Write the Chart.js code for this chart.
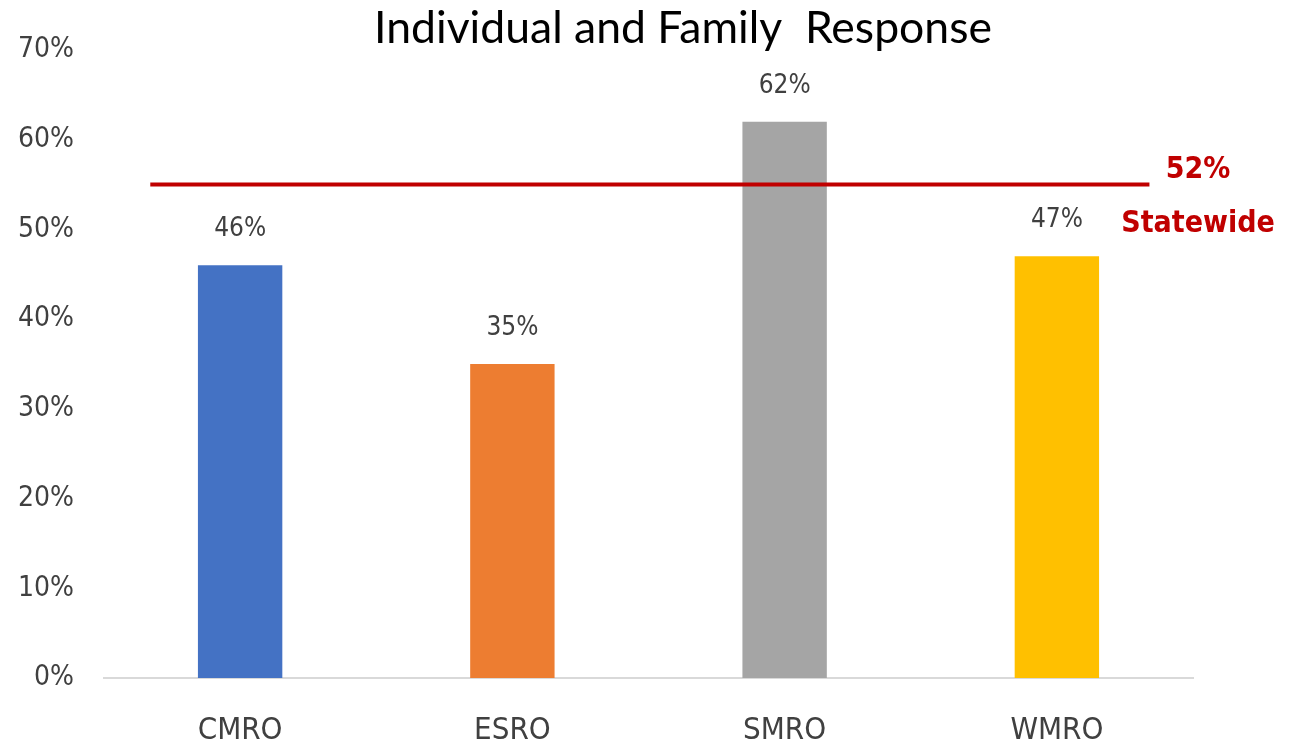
<!DOCTYPE html>
<html>
<head>
<meta charset="utf-8">
<title>Individual and Family Response</title>
<script src="https://cdn.jsdelivr.net/npm/chart.js@4"></script>
<style>
  html, body { margin: 0; padding: 0; background: #fff; }
  #wrap { width: 1296px; height: 747px; position: relative; }
</style>
</head>
<body>
<div id="wrap"><canvas id="chart" width="1296" height="747"></canvas></div>
<script>
// --- data ---
const regions = ['CMRO', 'ESRO', 'SMRO', 'WMRO'];
const responseRates = [46, 35, 62, 47];
const barColors = ['#4472C4', '#ED7D31', '#A5A5A5', '#FFC000'];
const yTicks = [0, 10, 20, 30, 40, 50, 60, 70];
const statewideLabel = '52%';
const statewideLineLevel = 55;      // where the red line sits in the picture
const statewideLineSpan = [-0.33, 3.34]; // in category units

const narrow = "'Liberation Sans Narrow', 'DejaVu Sans Condensed', sans-serif";

// title + value labels, drawn after the chart
const labelsPlugin = {
    id: 'labels',
    afterDraw(chart) {
        const ctx = chart.ctx;
        const x = chart.scales.x;
        const y = chart.scales.y;
        ctx.save();

        // title
        ctx.fillStyle = '#000';
        ctx.font = "44.5px Lato, 'Open Sans', sans-serif";
        ctx.textAlign = 'center';
        ctx.textBaseline = 'alphabetic';
        ctx.fillText('Individual and Family  Response', 683, 43);

        // value on top of each bar
        ctx.fillStyle = '#404040';
        ctx.font = '26px ' + narrow;
        responseRates.forEach((v, i) => {
            ctx.fillText(v + '%', x.getPixelForValue(i), y.getPixelForValue(v) - 29);
        });

        // statewide note
        ctx.fillStyle = '#C00000';
        ctx.font = 'bold 30px ' + narrow;
        ctx.fillText(statewideLabel, 1198, 178);
        ctx.fillText('Statewide', 1198, 232);
        ctx.restore();
    }
};

new Chart(document.getElementById('chart'), {
    type: 'bar',
    data: {
        labels: regions,
        datasets: [
            {
                type: 'line',
                data: statewideLineSpan.map(p => ({ x: p, y: statewideLineLevel })),
                xAxisID: 'xLine',
                borderColor: '#C00000',
                borderWidth: 4,
                pointRadius: 0,
                order: 0
            },
            {
                data: responseRates,
                backgroundColor: barColors,
                barPercentage: 0.31,
                categoryPercentage: 1,
                grouped: false,
                order: 1
            }
        ]
    },
    options: {
        responsive: false,
        animation: false,
        layout: { padding: { top: 50, right: 103, bottom: 0, left: 0 } },
        plugins: { legend: { display: false }, tooltip: { enabled: false }, title: { display: false } },
        scales: {
            x: {
                grid: { display: false, drawTicks: false },
                border: { display: true, color: '#D9D9D9', width: 2 },
                ticks: { color: '#404040', font: { family: narrow, size: 31 }, padding: 34 },
                afterFit(s) { s.height = 69; }
            },
            xLine: {
                type: 'linear',
                display: false,
                offset: false,
                min: -0.5,
                max: 3.5
            },
            y: {
                min: 0,
                max: 70,
                grid: { display: false, drawTicks: false },
                border: { display: false },
                ticks: {
                    stepSize: 10,
                    color: '#404040',
                    font: { family: narrow, size: 28 },
                    padding: 30,
                    callback: v => yTicks.includes(v) ? v + '%' : ''
                },
                afterFit(s) { s.width = 104; }
            }
        }
    },
    plugins: [labelsPlugin]
});
</script>
</body>
</html>
